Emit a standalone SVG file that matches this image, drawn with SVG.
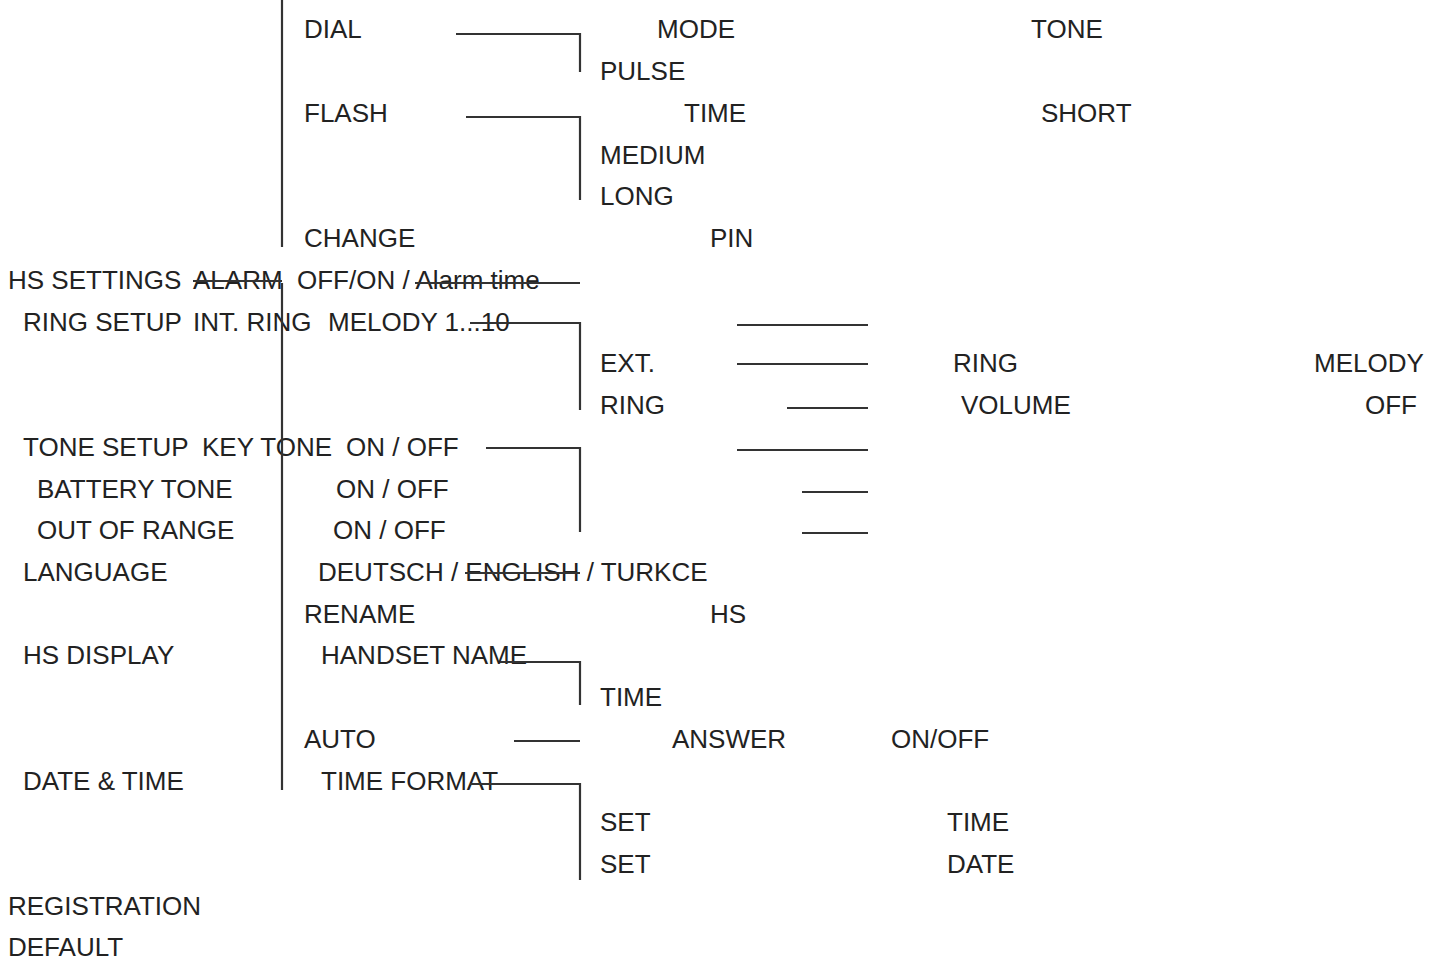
<svg xmlns="http://www.w3.org/2000/svg" width="1431" height="965" viewBox="0 0 1431 965">
<style>
text{font-family:"Liberation Sans",Arial,sans-serif;font-size:26px;fill:#222}
.l{stroke:#333;stroke-width:2.2;fill:none}
</style>
<rect width="1431" height="965" fill="#fff"/>
<g id="texts">
<text x="304" y="38">DIAL</text><text x="657" y="38">MODE</text><text x="1031" y="38">TONE</text>
<text x="600" y="80">PULSE</text>
<text x="304" y="122">FLASH</text><text x="684" y="122">TIME</text><text x="1041" y="122">SHORT</text>
<text x="600" y="164">MEDIUM</text>
<text x="600" y="205">LONG</text>
<text x="304" y="247">CHANGE</text><text x="710" y="247">PIN</text>
<text x="8" y="289">HS SETTINGS</text><text x="193" y="289">ALARM</text><text x="297" y="289">OFF/ON / Alarm time</text>
<text x="23" y="331">RING SETUP</text><text x="193" y="331">INT. RING</text><text x="328" y="331">MELODY 1...10</text>
<text x="600" y="372">EXT.</text><text x="953" y="372">RING</text><text x="1314" y="372">MELODY</text>
<text x="600" y="414">RING</text><text x="961" y="414">VOLUME</text><text x="1365" y="414">OFF</text>
<text x="23" y="456">TONE SETUP</text><text x="202" y="456">KEY TONE</text><text x="346" y="456">ON / OFF</text>
<text x="37" y="498">BATTERY TONE</text><text x="336" y="498">ON / OFF</text>
<text x="37" y="539">OUT OF RANGE</text><text x="333" y="539">ON / OFF</text>
<text x="23" y="581">LANGUAGE</text><text x="318" y="581">DEUTSCH / ENGLISH / TURKCE</text>
<text x="304" y="623">RENAME</text><text x="710" y="623">HS</text>
<text x="23" y="664">HS DISPLAY</text><text x="321" y="664">HANDSET NAME</text>
<text x="600" y="706">TIME</text>
<text x="304" y="748">AUTO</text><text x="672" y="748">ANSWER</text><text x="891" y="748">ON/OFF</text>
<text x="23" y="790">DATE &amp; TIME</text><text x="321" y="790">TIME FORMAT</text>
<text x="600" y="831">SET</text><text x="947" y="831">TIME</text>
<text x="600" y="873">SET</text><text x="947" y="873">DATE</text>
<text x="8" y="915">REGISTRATION</text>
<text x="8" y="956">DEFAULT</text>
</g>
<g id="connectors" class="l">
<path class="l" d="M282 0V247M282 283V790"/>
<path class="l" d="M456 34H580V72"/>
<path class="l" d="M466 117H580V200"/>
<path class="l" d="M193 281H282M415 283H580"/>
<path class="l" d="M470 323H580V410"/>
<path class="l" d="M737 325H868M737 364H868M787 408H868M737 450H868M802 492H868M802 533H868"/>
<path class="l" d="M486 448H580V532"/>
<path class="l" d="M465 573H580"/>
<path class="l" d="M500 662H580V705"/>
<path class="l" d="M514 741H580"/>
<path class="l" d="M470 784H580V880"/>
</g>
</svg>
